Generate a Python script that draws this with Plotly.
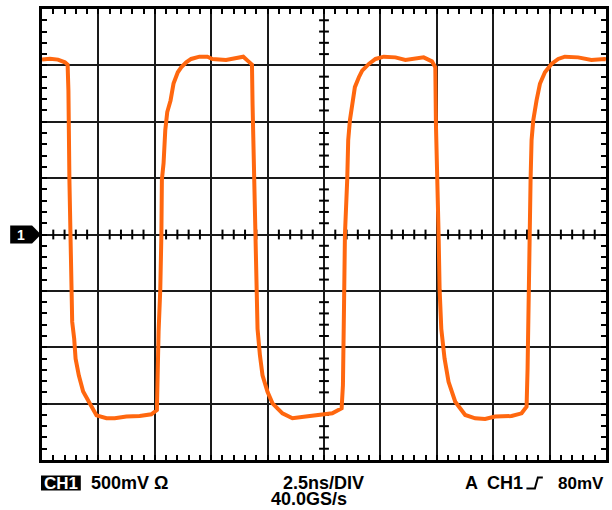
import numpy as np
import plotly.graph_objects as go

time_ns = [0.000, 0.353, 0.707, 1.016, 1.135, 1.171, 1.215, 1.259, 1.303, 1.338,
           1.427, 1.489, 1.634, 1.824, 2.120, 2.416, 2.858, 3.224, 3.741, 4.329,
           4.845, 5.093, 5.168, 5.243, 5.292, 5.314, 5.389, 5.464, 5.552, 5.698,
           5.830, 6.020, 6.171, 6.391, 6.612, 6.979, 7.332, 7.553, 8.158, 8.746,
           8.922, 9.112, 9.307, 9.333, 9.408, 9.470, 9.519, 9.554, 9.660, 9.775,
           9.996, 10.217, 10.658, 11.100, 11.692, 12.279, 12.867, 13.282, 13.339, 13.384,
           13.428, 13.529, 13.573, 13.649, 13.750, 13.869, 14.046, 14.192, 14.488, 14.784,
           15.150, 15.667, 16.109, 16.551, 16.917, 17.284, 17.434, 17.461, 17.535, 17.580,
           17.624, 17.699, 17.845, 18.021, 18.317, 18.759, 19.201, 19.642, 20.084, 20.817,
           21.259, 21.480, 21.524, 21.564, 21.599, 21.657, 21.701, 21.776, 21.922, 22.072,
           22.293, 22.585, 22.880, 23.176, 23.763, 24.351, 24.943, 25.000]
volt_v = [1.551, 1.559, 1.551, 1.527, 1.507, 1.278, 0.485, 0.000, -0.485, -0.775,
          -0.925, -1.101, -1.251, -1.392, -1.498, -1.604, -1.630, -1.630, -1.615, -1.610,
          -1.595, -1.557, -0.863, -0.485, 0.000, 0.485, 0.634, 0.925, 1.086, 1.189,
          1.339, 1.439, 1.483, 1.527, 1.557, 1.577, 1.577, 1.557, 1.548, 1.566,
          1.577, 1.542, 1.507, 1.160, 0.485, 0.000, -0.485, -0.837, -1.072, -1.248,
          -1.395, -1.498, -1.586, -1.630, -1.615, -1.604, -1.586, -1.542, -1.337, -0.687,
          0.000, 0.485, 0.837, 1.013, 1.160, 1.307, 1.395, 1.454, 1.513, 1.557,
          1.577, 1.571, 1.548, 1.557, 1.571, 1.536, 1.483, 0.984, 0.485, 0.000,
          -0.485, -0.837, -1.101, -1.307, -1.483, -1.601, -1.630, -1.636, -1.615, -1.610,
          -1.586, -1.527, -1.189, -0.485, 0.000, 0.485, 0.837, 1.013, 1.189, 1.337,
          1.439, 1.513, 1.557, 1.577, 1.571, 1.548, 1.557, 1.555]

# labels
channel_label = "CH1"
volts_per_div = "500mV Ω"
time_per_div = "2.5ns/DIV"
sample_rate = "40.0GS/s"
trigger_mode = "A"
trigger_src = "CH1"
trigger_level = "80mV"
marker_label = "1"

# axis setup (scope graticule)
T_RANGE = [0, 25]
V_RANGE = [-2, 2]
T_DIV, V_DIV = 2.5, 0.5

W, H = 612, 510
ML, MR, MT, MB = 42, 3, 9, 50
PW, PH = W - ML - MR, H - MT - MB


def px(p):
    return (p - ML) / PW


def py(p):
    return (H - MB - p) / PH


ORANGE = "#FF670F"
FONT = "Liberation Sans, Arial, sans-serif"

fig = go.Figure()

# crossing ticks on the centre lines
t_minor = [t for t in np.arange(T_RANGE[0] + T_DIV / 5, T_RANGE[1], T_DIV / 5)
           if abs(t / T_DIV - round(t / T_DIV)) > 1e-6]
v_minor = [v for v in np.arange(V_RANGE[0] + V_DIV / 5, V_RANGE[1] - 1e-9, V_DIV / 5)
           if abs(v / V_DIV - round(v / V_DIV)) > 1e-6]
fig.add_trace(go.Scatter(x=t_minor, y=[0] * len(t_minor), mode="markers",
                         marker=dict(symbol="line-ns", size=7,
                                     line=dict(width=2, color="black")),
                         hoverinfo="skip", showlegend=False))
fig.add_trace(go.Scatter(x=[12.5] * len(v_minor), y=v_minor, mode="markers",
                         marker=dict(symbol="line-ew", size=7,
                                     line=dict(width=2, color="black")),
                         hoverinfo="skip", showlegend=False))

# waveform
fig.add_trace(go.Scatter(x=time_ns, y=volt_v, mode="lines",
                         line=dict(color=ORANGE, width=4),
                         showlegend=False))

axis_common = dict(showgrid=True, gridcolor="#1a1a1a", gridwidth=2,
                   showticklabels=False, ticks="inside", ticklen=5, tickwidth=2,
                   tickcolor="black", mirror="allticks", showline=True,
                   linecolor="black", linewidth=3, zeroline=False, fixedrange=True)

fig.update_xaxes(range=T_RANGE, dtick=T_DIV, tick0=0,
                 minor=dict(dtick=T_DIV / 5, ticks="inside", ticklen=5,
                            tickwidth=2, tickcolor="black", showgrid=False),
                 **axis_common)
fig.update_yaxes(range=V_RANGE, dtick=V_DIV, tick0=0,
                 minor=dict(dtick=V_DIV / 5, ticks="inside", ticklen=5,
                            tickwidth=2, tickcolor="black", showgrid=False),
                 **axis_common)

shapes = []
# channel-1 ground marker on the left
shapes.append(dict(type="path", xref="paper", yref="paper",
                   path=(f"M {px(10)},{py(225.5)} L {px(32)},{py(225.5)} "
                         f"L {px(41)},{py(234.5)} L {px(32)},{py(243.5)} "
                         f"L {px(10)},{py(243.5)} Z"),
                   fillcolor="black", line=dict(width=0)))
# CH1 box at bottom
shapes.append(dict(type="rect", xref="paper", yref="paper",
                   x0=px(41), x1=px(81), y0=py(475.5), y1=py(490.5),
                   fillcolor="black", line=dict(width=0)))
# trigger slope glyph
shapes.append(dict(type="path", xref="paper", yref="paper",
                   path=(f"M {px(529)},{py(488.5)} L {px(537.5)},{py(488.5)} "
                         f"L {px(540.5)},{py(477.5)} L {px(545.5)},{py(477.5)}"),
                   line=dict(color="black", width=2)))


def f(size, color="black"):
    return dict(family=FONT, size=size, color=color)


Y1, Y2 = 483, 499
annos = [
    dict(x=px(21), y=py(234.5), text=f"<b>{marker_label}</b>", xanchor="center",
         font=f(14, "white")),
    dict(x=px(61), y=py(Y1), text=f"<b>{channel_label}</b>", xanchor="center",
         font=f(17, "white")),
    dict(x=px(91), y=py(Y1), text=f"<b>{volts_per_div}</b>", xanchor="left", font=f(18)),
    dict(x=px(284.5), y=py(Y1), text=f"<b>{time_per_div}</b>", xanchor="left", font=f(18)),
    dict(x=px(310), y=py(Y2), text=f"<b>{sample_rate}</b>", xanchor="center", font=f(18)),
    dict(x=px(467), y=py(Y1), text=f"<b>{trigger_mode}</b>", xanchor="left", font=f(18)),
    dict(x=px(489.5), y=py(Y1), text=f"<b>{trigger_src}</b>", xanchor="left", font=f(18)),
    dict(x=px(561), y=py(Y1), text=f"<b>{trigger_level}</b>", xanchor="left", font=f(17)),
]
for a in annos:
    a.update(xref="paper", yref="paper", yanchor="middle", showarrow=False,
             borderpad=0, borderwidth=0)

fig.update_layout(width=W, height=H,
                  margin=dict(l=ML, r=MR, t=MT, b=MB, pad=0),
                  paper_bgcolor="white", plot_bgcolor="white",
                  shapes=shapes, annotations=annos, showlegend=False)

fig.write_html("out.html", config={"displayModeBar": False},
               post_script="document.body.style.margin='0';document.body.style.overflow='hidden';")
